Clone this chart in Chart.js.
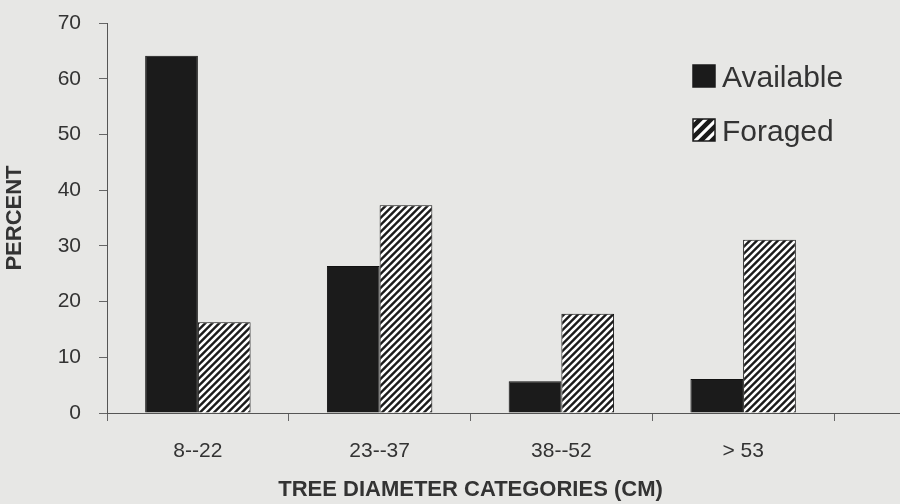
<!DOCTYPE html>
<html lang="en">
  <head>
    <meta charset="UTF-8" />
    <title>Tree diameter categories</title>
    <script src="https://cdn.jsdelivr.net/npm/chart.js"></script>
    <style>
      html, body { margin: 0; padding: 0; background: #e7e7e5; }
      canvas { display: block; }
    </style>
  </head>
  <body>
    <canvas id="chart" width="900" height="504"></canvas>
    <script>
      // data
      const categories = ["8--22", "23--37", "38--52", "> 53"];
      const available = [64.1, 26.4, 5.7, 6.1];
      const foraged = [16.3, 37.3, 17.8, 31.1];
      const yTicks = [0, 10, 20, 30, 40, 50, 60, 70];

      const ink = "#1b1b1b";
      const textColor = "#333333";
      const family = "'Liberation Sans', Arial, sans-serif";

      // diagonal hatch like the old print
      function makeHatch(size, lineW) {
        const c = document.createElement("canvas");
        c.width = size;
        c.height = size;
        const g = c.getContext("2d");
        g.fillStyle = ink;
        g.fillRect(0, 0, size, size);
        g.strokeStyle = "#ffffff";
        g.lineWidth = lineW;
        g.beginPath();
        g.moveTo(-1, size + 1);
        g.lineTo(size + 1, -1);
        g.moveTo(-size / 2 - 1, size / 2 + 1);
        g.lineTo(size / 2 + 1, -size / 2 - 1);
        g.moveTo(size / 2 - 1, size * 1.5 + 1);
        g.lineTo(size * 1.5 + 1, size / 2 - 1);
        g.stroke();
        return g.createPattern(c, "repeat");
      }
      const hatch = makeHatch(7, 2.6);
      const legendHatch = makeHatch(11, 3.2);

      const extras = {
        id: "extras",
        afterDraw(chart) {
          const ctx = chart.ctx;
          const area = chart.chartArea;
          ctx.save();
          // x axis runs on past the last category
          ctx.strokeStyle = "#555";
          ctx.lineWidth = 1;
          ctx.beginPath();
          ctx.moveTo(area.right, area.bottom + 0.5);
          ctx.lineTo(chart.width, area.bottom + 0.5);
          ctx.stroke();

          // legend
          const x = 693;
          const rows = [65, 119];
          ctx.font = "30px " + family;
          ctx.textBaseline = "alphabetic";
          chart.data.datasets.forEach((ds, i) => {
            const y = rows[i];
            ctx.fillStyle = i === 0 ? ink : legendHatch;
            ctx.fillRect(x, y, 22, 22);
            ctx.strokeStyle = ink;
            ctx.lineWidth = 1.5;
            ctx.strokeRect(x, y, 22, 22);
            ctx.fillStyle = textColor;
            ctx.fillText(ds.label, x + 29, y + 22);
          });
          ctx.restore();
        },
      };

      new Chart(document.getElementById("chart"), {
        type: "bar",
        data: {
          labels: categories,
          datasets: [
            {
              label: "Available",
              data: available,
              backgroundColor: ink,
              borderColor: "#111",
              borderWidth: 1,
            },
            {
              label: "Foraged",
              data: foraged,
              backgroundColor: hatch,
              borderColor: "#111",
              borderWidth: 1,
            },
          ],
        },
        options: {
          responsive: false,
          animation: false,
          devicePixelRatio: 1,
          layout: { padding: { left: 0, top: 23, right: 66, bottom: 0 } },
          plugins: {
            legend: { display: false },
            tooltip: { enabled: false },
          },
          datasets: {
            bar: { categoryPercentage: 0.58, barPercentage: 1 },
          },
          scales: {
            x: {
              afterFit(scale) {
                scale.height = 91;
                scale.paddingLeft = 0;
                scale.paddingRight = 0;
              },
              grid: {
                drawOnChartArea: false,
                tickLength: 8,
                tickColor: "#666",
              },
              border: { color: "#555", width: 1 },
              ticks: {
                color: textColor,
                padding: 18,
                font: { family: family, size: 21 },
              },
              title: {
                display: true,
                text: "TREE DIAMETER CATEGORIES (CM)",
                color: textColor,
                padding: { top: 0, bottom: 1 },
                font: { family: family, size: 22, weight: "bold" },
              },
            },
            y: {
              min: 0,
              max: 70,
              afterFit(scale) {
                scale.width = 107;
                scale.paddingTop = 0;
                scale.paddingBottom = 0;
              },
              afterBuildTicks(scale) {
                scale.ticks = yTicks.map((v) => ({ value: v }));
              },
              grid: {
                drawOnChartArea: false,
                tickLength: 8,
                tickColor: "#666",
              },
              border: { color: "#555", width: 1 },
              ticks: {
                color: textColor,
                padding: 18,
                font: { family: family, size: 21 },
              },
              title: {
                display: true,
                text: "PERCENT",
                color: textColor,
                padding: { top: 2, bottom: 0 },
                font: { family: family, size: 22, weight: "bold" },
              },
            },
          },
        },
        plugins: [extras],
      });
    </script>
  </body>
</html>
